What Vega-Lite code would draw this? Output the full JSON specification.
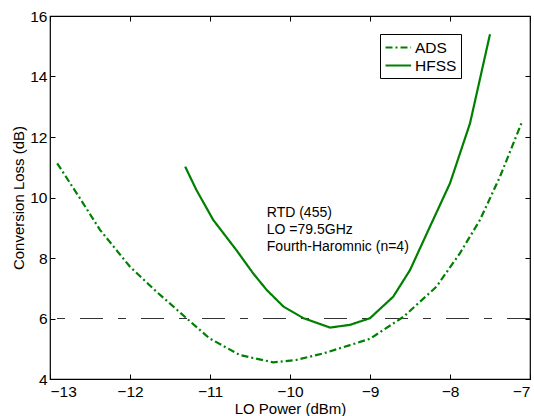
{
  "$schema": "https://vega.github.io/schema/vega-lite/v6.json",
  "width": 480,
  "height": 363,
  "autosize": {"type": "none"},
  "padding": {"left": 50, "top": 16, "right": 4, "bottom": 37},
  "background": "white",
  "config": {
    "font": "Liberation Sans",
    "view": {"stroke": "black", "strokeWidth": 1.2},
    "axis": {
      "domain": false,
      "tickColor": "black",
      "labelColor": "black",
      "titleColor": "black",
      "grid": false,
      "labelFont": "Liberation Sans",
      "titleFont": "Liberation Sans",
      "labelFontSize": 15.5,
      "titleFontSize": 15,
      "titleFontWeight": "normal",
      "tickSize": 5,
      "tickWidth": 1,
      "offset": -5,
      "labelPadding": 3
    }
  },
  "datasets": {
    "curves": [
      {"series": "ADS", "x": -12.91, "y": 11.13},
      {"series": "ADS", "x": -12.625, "y": 9.97},
      {"series": "ADS", "x": -12.375, "y": 8.93},
      {"series": "ADS", "x": -12.0, "y": 7.71},
      {"series": "ADS", "x": -11.67, "y": 6.89},
      {"series": "ADS", "x": -11.29, "y": 6.0},
      {"series": "ADS", "x": -11.01, "y": 5.35},
      {"series": "ADS", "x": -10.625, "y": 4.79},
      {"series": "ADS", "x": -10.21, "y": 4.55},
      {"series": "ADS", "x": -9.92, "y": 4.63},
      {"series": "ADS", "x": -9.58, "y": 4.85},
      {"series": "ADS", "x": -9.25, "y": 5.12},
      {"series": "ADS", "x": -9.0, "y": 5.33},
      {"series": "ADS", "x": -8.58, "y": 6.06},
      {"series": "ADS", "x": -8.17, "y": 7.05},
      {"series": "ADS", "x": -7.875, "y": 8.16},
      {"series": "ADS", "x": -7.625, "y": 9.26},
      {"series": "ADS", "x": -7.375, "y": 10.69},
      {"series": "ADS", "x": -7.1, "y": 12.5},
      {"series": "HFSS", "x": -11.31, "y": 11.02},
      {"series": "HFSS", "x": -11.17, "y": 10.25},
      {"series": "HFSS", "x": -10.96, "y": 9.26},
      {"series": "HFSS", "x": -10.67, "y": 8.26},
      {"series": "HFSS", "x": -10.46, "y": 7.49},
      {"series": "HFSS", "x": -10.29, "y": 6.94},
      {"series": "HFSS", "x": -10.08, "y": 6.39},
      {"series": "HFSS", "x": -9.83, "y": 6.01},
      {"series": "HFSS", "x": -9.5, "y": 5.7},
      {"series": "HFSS", "x": -9.25, "y": 5.79},
      {"series": "HFSS", "x": -9.0, "y": 6.01},
      {"series": "HFSS", "x": -8.71, "y": 6.72},
      {"series": "HFSS", "x": -8.5, "y": 7.6},
      {"series": "HFSS", "x": -8.25, "y": 9.04},
      {"series": "HFSS", "x": -8.0, "y": 10.47},
      {"series": "HFSS", "x": -7.75, "y": 12.45},
      {"series": "HFSS", "x": -7.5, "y": 15.4}
    ],
    "ref": [{"y": 6}],
    "note": [{"x": -10.29, "y": 9.35, "label": "RTD (455)\nLO =79.5GHz\nFourth-Haromnic (n=4)"}]
  },
  "layer": [
    {
      "data": {"name": "ref"},
      "mark": {"type": "rule", "color": "#333333", "strokeWidth": 1, "strokeDash": [23, 15, 8, 15]},
      "encoding": {
        "y": {"field": "y", "type": "quantitative", "scale": {"domain": [4, 16], "nice": false, "zero": false},
          "axis": {"orient": "left", "values": [4, 6, 8, 10, 12, 14, 16], "title": "Conversion Loss (dB)", "titlePadding": 3}}
      }
    },
    {
      "data": {"name": "curves"},
      "mark": {"type": "line", "color": "#008000", "strokeWidth": 2.2, "interpolate": "linear"},
      "encoding": {
        "x": {"field": "x", "type": "quantitative", "scale": {"domain": [-13, -7], "nice": false, "zero": false},
          "axis": {"orient": "bottom", "values": [-13, -12, -11, -10, -9, -8, -7], "format": "d", "title": "LO Power (dBm)", "labelPadding": 5, "titlePadding": 2}},
        "y": {"field": "y", "type": "quantitative", "axis": null},
        "strokeDash": {
          "field": "series", "type": "nominal",
          "scale": {"domain": ["ADS", "HFSS"], "range": [[7, 3, 2, 3], [1, 0]]},
          "legend": {
            "title": null,
            "orient": "none",
            "legendX": 330,
            "legendY": 18,
            "symbolType": "M-1,0H2.2",
            "symbolStrokeColor": "#008000",
            "symbolStrokeWidth": 2.2,
            "symbolSize": 256,
            "labelFontSize": 15.5,
            "labelFont": "Liberation Sans",
            "labelColor": "black",
            "labelOffset": 12,
            "rowPadding": 0,
            "padding": 4,
            "strokeColor": "black",
            "fillColor": "white"
          }
        }
      }
    },
    {
      "data": {"name": "note"},
      "mark": {"type": "text", "align": "left", "baseline": "alphabetic", "fontSize": 14, "lineBreak": "\n", "lineHeight": 16.7, "font": "Liberation Sans", "color": "black"},
      "encoding": {
        "x": {"field": "x", "type": "quantitative", "axis": {"orient": "top", "values": [-13, -12, -11, -10, -9, -8, -7], "labels": false, "title": null}},
        "y": {"field": "y", "type": "quantitative", "axis": {"orient": "right", "values": [4, 6, 8, 10, 12, 14, 16], "labels": false, "title": null}},
        "text": {"field": "label"}
      }
    }
  ],
  "resolve": {"axis": {"x": "independent", "y": "independent"}}
}
